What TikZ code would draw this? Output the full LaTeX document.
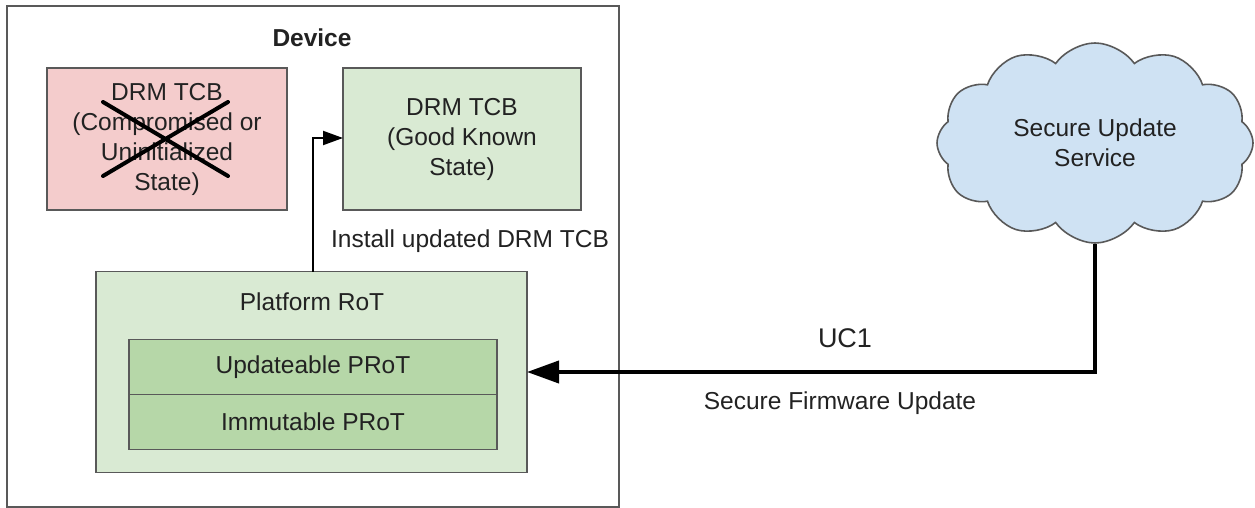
\documentclass[tikz,border=0pt]{standalone}
\usepackage{fontspec}
\setmainfont{Liberation Sans}
\usetikzlibrary{arrows.meta,shapes.symbols}

\definecolor{edgegray}{HTML}{595959}
\definecolor{inkgray}{HTML}{222222}
\definecolor{redfill}{HTML}{F4CCCC}
\definecolor{greenfill}{HTML}{D9EAD3}
\definecolor{darkgreenfill}{HTML}{B6D7A8}
\definecolor{cloudfill}{HTML}{CFE2F3}

\tikzset{
  box/.style={draw=edgegray, line width=1.6pt, rectangle, inner sep=0pt, outer sep=0pt,
    align=center, text=inkgray, font=\fontsize{24.5}{30}\selectfont},
  lbl/.style={inner sep=0pt, text=inkgray, font=\fontsize{24.5}{30}\selectfont},
  link/.style={draw=black, line width=2pt},
  biglink/.style={draw=black, line width=4pt},
}

\begin{document}
\begin{tikzpicture}[x=1pt, y=-1pt]
  \useasboundingbox (0,0) rectangle (1255,508);

  % device enclosure
  \node[box, fill=white, minimum width=612pt, minimum height=501pt] (device) at (313,256.5) {};
  \node[lbl, font=\fontsize{24.5}{30}\selectfont\bfseries] (devlabel) at (312,38) {Device};

  % DRM TCB states
  \node[box, fill=redfill, minimum width=240pt, minimum height=142pt] (bad) at (167,139)
    {DRM TCB\\(Compromised or\\Uninitialized\\State)};
  \draw[line width=4pt, line cap=round] (103,102) -- (228,176);
  \draw[line width=4pt, line cap=round] (103,176) -- (228,102);

  \node[box, fill=greenfill, minimum width=238pt, minimum height=142pt] (good) at (462,139)
    {DRM TCB\\(Good Known\\State)};

  % platform root of trust
  \node[box, fill=greenfill, minimum width=431pt, minimum height=201pt] (prot) at (311.5,372) {};
  \node[lbl] (protlabel) at (312,302) {Platform RoT};
  \node[box, fill=darkgreenfill, minimum width=368pt, minimum height=55pt] (upd) at (313,367) {Updateable PRoT};
  \node[box, fill=darkgreenfill, minimum width=368pt, minimum height=55pt] (imm) at (313,422) {Immutable PRoT};

  % install path
  \coordinate (bend) at (313,138);
  \draw[link, -{Triangle[length=20pt, width=14pt]}] (prot.north -| bend) -- (bend) -- (good.west |- bend);
  \node[lbl] (install) at (470,241) {Install updated DRM TCB};

  % update service
  \node[cloud, cloud puffs=12, cloud puff arc=110, cloud ignores aspect, draw=edgegray, line width=1.6pt,
        fill=cloudfill, minimum width=316pt, minimum height=200pt, inner sep=0pt, align=center,
        text=inkgray, font=\fontsize{24.5}{30}\selectfont] (cloud) at (1095,143) {Secure Update\\Service};

  \coordinate (corner) at (1095,372);
  \draw[biglink, -{Triangle[length=32pt, width=22pt]}] (cloud.south) -- (corner) -- (prot.east |- corner);
  \node[lbl, font=\fontsize{27}{30}\selectfont] (uc) at (845,338) {UC1};
  \node[lbl] (sfu) at (840,403) {Secure Firmware Update};
\end{tikzpicture}
\end{document}
